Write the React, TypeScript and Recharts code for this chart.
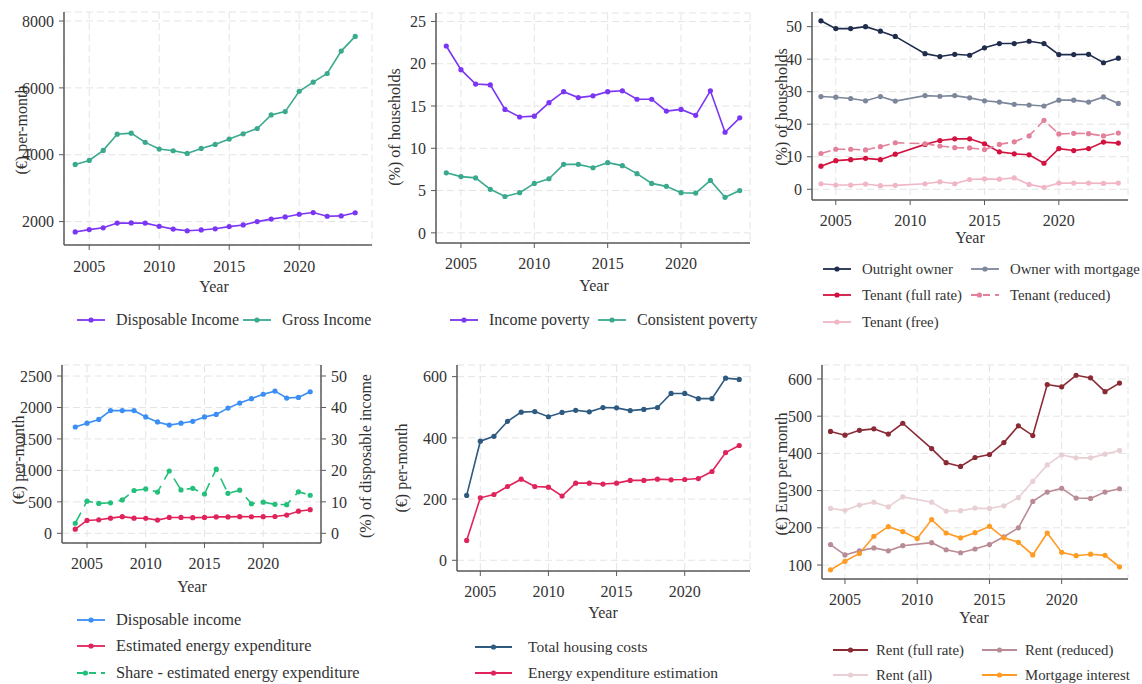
import React from 'react';
import { LineChart, Line, XAxis, YAxis, CartesianGrid } from 'recharts';

// years shared by every panel
const years = [2004, 2005, 2006, 2007, 2008, 2009, 2010, 2011, 2012, 2013, 2014,
  2015, 2016, 2017, 2018, 2019, 2020, 2021, 2022, 2023, 2024];
const yearTicks = [2005, 2010, 2015, 2020];

// panel 1 - income
const disposableIncome = [1690, 1760, 1815, 1955, 1960, 1955, 1860, 1775, 1725, 1750, 1785,
  1850, 1900, 2000, 2075, 2140, 2220, 2270, 2160, 2170, 2265];
const grossIncome = [3710, 3830, 4130, 4615, 4645, 4370, 4170, 4120, 4040, 4190, 4310,
  4470, 4625, 4785, 5190, 5290, 5900, 6170, 6430, 7100, 7540];

// panel 2 - poverty
const incomePoverty = [22.1, 19.3, 17.6, 17.5, 14.6, 13.7, 13.8, 15.4, 16.7, 16.0, 16.2,
  16.7, 16.8, 15.8, 15.8, 14.4, 14.6, 13.9, 16.8, 11.9, 13.6];
const consistentPoverty = [7.1, 6.65, 6.5, 5.15, 4.3, 4.75, 5.85, 6.4, 8.1, 8.1, 7.7,
  8.3, 7.95, 7.0, 5.85, 5.5, 4.75, 4.7, 6.2, 4.2, 5.0];

// panel 3 - tenure (no survey point in 2010)
const outrightOwner = [51.8, 49.4, 49.4, 50.0, 48.6, 47.0, null, 41.7, 40.8, 41.5, 41.2,
  43.5, 44.8, 44.8, 45.5, 44.8, 41.4, 41.4, 41.5, 38.9, 40.3];
const ownerMortgage = [28.5, 28.3, 27.9, 27.2, 28.5, 27.1, null, 28.8, 28.6, 28.8, 28.1,
  27.2, 26.8, 26.1, 25.9, 25.6, 27.4, 27.4, 26.8, 28.4, 26.4];
const tenantFull = [7.1, 8.8, 9.1, 9.5, 9.1, 10.8, null, 13.8, 15.0, 15.5, 15.5,
  14.0, 11.5, 10.9, 10.6, 8.0, 12.5, 11.9, 12.5, 14.5, 14.2];
const tenantReduced = [11.0, 12.3, 12.3, 12.1, 13.1, 14.3, null, 14.0, 13.3, 12.8, 12.7,
  12.2, 13.8, 14.6, 16.4, 21.2, 17.0, 17.2, 17.1, 16.4, 17.3];
const tenantFree = [1.7, 1.3, 1.3, 1.6, 1.1, 1.2, null, 1.7, 2.3, 1.7, 3.0,
  3.2, 3.1, 3.5, 1.5, 0.6, 1.9, 1.9, 1.9, 1.8, 1.9];

// panel 4 - energy share
const dispIncome2 = [1690, 1750, 1810, 1950, 1950, 1950, 1850, 1770, 1720, 1750, 1780,
  1850, 1890, 1990, 2070, 2140, 2210, 2260, 2150, 2160, 2250];
const energyExp = [65, 204, 215, 241, 265, 241, 239, 210, 252, 252, 249,
  252, 261, 261, 265, 263, 264, 267, 290, 352, 375];
const energyShare = [3.2, 10.2, 9.5, 9.7, 10.6, 13.6, 14.1, 13.1, 19.8, 13.8, 14.3,
  12.5, 20.4, 12.7, 13.7, 9.4, 9.9, 9.2, 9.1, 13.2, 12.1];

// panel 5 - housing costs
const housingCosts = [212, 389, 405, 454, 484, 486, 469, 483, 490, 485, 499,
  498, 489, 493, 499, 545, 545, 528, 528, 595, 591];

// panel 6 - rents (no rent point in 2010)
const rentFull = [459, 449, 462, 466, 452, 481, null, 413, 375, 365, 389,
  397, 429, 474, 448, 585, 579, 610, 603, 566, 589];
const rentReduced = [155, 127, 138, 146, 138, 152, null, 160, 141, 133, 143,
  155, 176, 200, 271, 296, 306, 280, 279, 296, 305];
const rentAll = [252, 247, 261, 269, 256, 283, null, 269, 245, 246, 253,
  252, 259, 281, 325, 369, 396, 388, 388, 398, 408];
const mortgageInterest = [87, 110, 131, 177, 203, 190, 171, 222, 186, 173, 187,
  204, 173, 161, 127, 186, 134, 125, 129, 126, 95];

const FONT = '"Liberation Serif", "Times New Roman", serif';
const TXT = '#333';
const AXIS = '#5a5a5a';
const GRID = '#e4e4e4';
const YW = 60;
const XH = 40;
const RW = 60;
const PAD = 10;

type Series = { key: string; name: string; data: (number | null)[]; color: string; dash?: string; axis?: string };

function buildRows(series: Series[]) {
  return years.map((year, i) => {
    const row: any = { year };
    series.forEach((s) => { row[s.key] = s.data[i]; });
    return row;
  });
}

interface PanelProps {
  plot: { x0: number; x1: number; y0: number; y1: number };
  xDomain: [number, number];
  yDomain: [number, number];
  yTicks: number[];
  series: Series[];
  right?: { domain: [number, number]; ticks: number[] };
  xTickMargin?: number;
}

function Panel({ plot, xDomain, yDomain, yTicks, series, right, xTickMargin = 10 }: PanelProps) {
  const left = plot.x0 - YW - PAD;
  const top = plot.y0 - PAD;
  const width = plot.x1 - plot.x0 + YW + PAD * 2 + (right ? RW : 0);
  const height = plot.y1 - plot.y0 + XH + PAD;
  const tick = { fill: TXT, fontSize: 16, fontFamily: FONT };
  return (
    <div style={{ position: 'absolute', left, top }}>
      <LineChart width={width} height={height} data={buildRows(series)}
        margin={{ top: PAD, left: PAD, right: PAD, bottom: 0 }} style={{ overflow: 'visible' }}>
        <CartesianGrid yAxisId="l" stroke={GRID} strokeDasharray="7 4" />
        <XAxis dataKey="year" type="number" domain={xDomain} ticks={yearTicks} allowDataOverflow
          height={XH} tick={tick} tickSize={5} tickMargin={xTickMargin}
          axisLine={{ stroke: AXIS, strokeWidth: 1.5 }} tickLine={{ stroke: AXIS }} />
        <YAxis yAxisId="l" type="number" domain={yDomain} ticks={yTicks} allowDataOverflow
          width={YW} tick={tick} tickSize={5} tickMargin={5}
          axisLine={{ stroke: AXIS, strokeWidth: 1.5 }} tickLine={{ stroke: AXIS }} />
        {right && (
          <YAxis yAxisId="r" orientation="right" type="number" domain={right.domain} ticks={right.ticks}
            allowDataOverflow width={RW} tick={{ ...tick, textAnchor: 'start' }} tickSize={5} tickMargin={5}
            axisLine={{ stroke: AXIS, strokeWidth: 1.5 }} tickLine={{ stroke: AXIS }} />
        )}
        {series.map((s) => (
          <Line key={s.key} yAxisId={s.axis || 'l'} dataKey={s.key} name={s.name} type="linear"
            stroke={s.color} strokeWidth={1.6} strokeDasharray={s.dash} connectNulls
            dot={{ r: 2.6, fill: s.color, stroke: s.color, strokeWidth: 0 }}
            isAnimationActive={false} />
        ))}
      </LineChart>
    </div>
  );
}

function Title({ x, y, text, rotate }: { x: number; y: number; text: string; rotate?: boolean }) {
  return (
    <div style={{
      position: 'absolute', left: x, top: y, whiteSpace: 'nowrap', fontFamily: FONT, fontSize: 16,
      color: TXT, lineHeight: 1, transform: `translate(-50%, -50%)${rotate ? ' rotate(-90deg)' : ''}`,
    }}>{text}</div>
  );
}

function LegendItem({ x, y, s, len = 28, gap = 11, size = 16 }: { x: number; y: number; s: Series; len?: number; gap?: number; size?: number }) {
  return (
    <div style={{ position: 'absolute', left: x, top: y - 9, height: 18, display: 'flex', alignItems: 'center', whiteSpace: 'nowrap' }}>
      <svg width={len} height={10} style={{ marginRight: gap }}>
        <line x1={0} y1={5} x2={len} y2={5} stroke={s.color} strokeWidth={1.8} strokeDasharray={s.dash ? '7 5' : undefined} />
        <circle cx={s.dash ? len * 0.3 : len / 2} cy={5} r={2.6} fill={s.color} />
      </svg>
      <span style={{ fontFamily: FONT, fontSize: size, color: TXT, lineHeight: 1 }}>{s.name}</span>
    </div>
  );
}

const p1: Series[] = [
  { key: 'disp', name: 'Disposable Income', data: disposableIncome, color: '#7b35f4' },
  { key: 'gross', name: 'Gross Income', data: grossIncome, color: '#3aa98e' },
];
const p2: Series[] = [
  { key: 'inc', name: 'Income poverty', data: incomePoverty, color: '#7b35f4' },
  { key: 'cons', name: 'Consistent poverty', data: consistentPoverty, color: '#3aa98e' },
];
const p3: Series[] = [
  { key: 'out', name: 'Outright owner', data: outrightOwner, color: '#1f2c4c' },
  { key: 'mort', name: 'Owner with mortgage', data: ownerMortgage, color: '#7d879b' },
  { key: 'full', name: 'Tenant (full rate)', data: tenantFull, color: '#d2123f' },
  { key: 'red', name: 'Tenant (reduced)', data: tenantReduced, color: '#e3809a', dash: '10 5' },
  { key: 'free', name: 'Tenant (free)', data: tenantFree, color: '#f1b6c6' },
];
const p4: Series[] = [
  { key: 'disp', name: 'Disposable income', data: dispIncome2, color: '#3a8ef5' },
  { key: 'energy', name: 'Estimated energy expenditure', data: energyExp, color: '#e0235a' },
  { key: 'share', name: 'Share - estimated energy expenditure', data: energyShare, color: '#22c07a', dash: '12 7', axis: 'r' },
];
const p5: Series[] = [
  { key: 'housing', name: 'Total housing costs', data: housingCosts, color: '#2e5a80' },
  { key: 'energy', name: 'Energy expenditure estimation', data: energyExp, color: '#e0235a' },
];
const p6: Series[] = [
  { key: 'full', name: 'Rent (full rate)', data: rentFull, color: '#8a2a35' },
  { key: 'reduced', name: 'Rent (reduced)', data: rentReduced, color: '#b98c95' },
  { key: 'all', name: 'Rent (all)', data: rentAll, color: '#e8cfd3' },
  { key: 'mort', name: 'Mortgage interest', data: mortgageInterest, color: '#ff9b22' },
];

export default function App() {
  return (
    <div style={{ position: 'absolute', left: 0, top: 0, width: 1142, height: 684, background: '#fff', overflow: 'hidden' }}>
      {/* top row */}
      <Panel plot={{ x0: 64, x1: 372, y0: 12, y1: 245 }} xDomain={[2003.2, 2025.2]} yDomain={[1300, 8270]}
        yTicks={[2000, 4000, 6000, 8000]} series={p1} xTickMargin={11} />
      <Title x={22} y={130} text="(€) per-month" rotate />
      <Title x={214} y={287} text="Year" />
      <LegendItem x={77} y={320} s={p1[0]} />
      <LegendItem x={243} y={320} s={p1[1]} />

      <Panel plot={{ x0: 436, x1: 750, y0: 13, y1: 243 }} xDomain={[2003.3, 2024.7]} yDomain={[-1.2, 26]}
        yTicks={[0, 5, 10, 15, 20, 25]} series={p2} />
      <Title x={395} y={127} text="(%) of households" rotate />
      <Title x={594} y={286} text="Year" />
      <LegendItem x={450} y={320} s={p2[0]} />
      <LegendItem x={598} y={320} s={p2[1]} />

      <Panel plot={{ x0: 812, x1: 1128, y0: 12, y1: 200 }} xDomain={[2003.4, 2024.65]} yDomain={[-3.3, 54.5]}
        yTicks={[0, 10, 20, 30, 40, 50]} series={p3} />
      <Title x={782} y={107} text="(%) of households" rotate />
      <Title x={970} y={238} text="Year" />
      <LegendItem x={823} y={269} s={p3[0]} size={14.8} />
      <LegendItem x={971} y={269} s={p3[1]} size={14.8} />
      <LegendItem x={823} y={295} s={p3[2]} size={14.8} />
      <LegendItem x={971} y={295} s={p3[3]} size={14.8} />
      <LegendItem x={823} y={322} s={p3[4]} size={14.8} />

      {/* bottom row */}
      <Panel plot={{ x0: 62, x1: 321, y0: 365, y1: 543 }} xDomain={[2002.87, 2024.92]} yDomain={[-154, 2675]}
        yTicks={[0, 500, 1000, 1500, 2000, 2500]} series={p4}
        right={{ domain: [-3.08, 53.5], ticks: [0, 10, 20, 30, 40, 50] }} />
      <Title x={19} y={460} text="(€) per-month" rotate />
      <Title x={366} y={456} text="(%) of disposable income" rotate />
      <Title x={192} y={587} text="Year" />
      <LegendItem x={77} y={620} s={p4[0]} size={16.4} />
      <LegendItem x={77} y={646} s={p4[1]} size={16.4} />
      <LegendItem x={77} y={673} s={p4[2]} size={16.4} />

      <Panel plot={{ x0: 457, x1: 750, y0: 365, y1: 571 }} xDomain={[2003.29, 2024.79]} yDomain={[-35, 638]}
        yTicks={[0, 200, 400, 600]} series={p5} />
      <Title x={402} y={468} text="(€) per-month" rotate />
      <Title x={603} y={613} text="Year" />
      <LegendItem x={475} y={647} s={p5[0]} len={37} gap={16} size={15.5} />
      <LegendItem x={475} y={673} s={p5[1]} len={37} gap={16} size={15.5} />

      <Panel plot={{ x0: 822, x1: 1128, y0: 365, y1: 579 }} xDomain={[2003.41, 2024.59]} yDomain={[62.4, 637.6]}
        yTicks={[100, 200, 300, 400, 500, 600]} series={p6} />
      <Title x={782} y={474} text="(€) Euro per month" rotate />
      <Title x={974} y={618} text="Year" />
      <LegendItem x={833} y={650} s={p6[0]} len={35} gap={8} size={14.8} />
      <LegendItem x={982} y={650} s={p6[1]} len={35} gap={8} size={14.8} />
      <LegendItem x={833} y={675} s={p6[2]} len={35} gap={8} size={14.8} />
      <LegendItem x={982} y={675} s={p6[3]} len={35} gap={8} size={14.8} />
    </div>
  );
}
